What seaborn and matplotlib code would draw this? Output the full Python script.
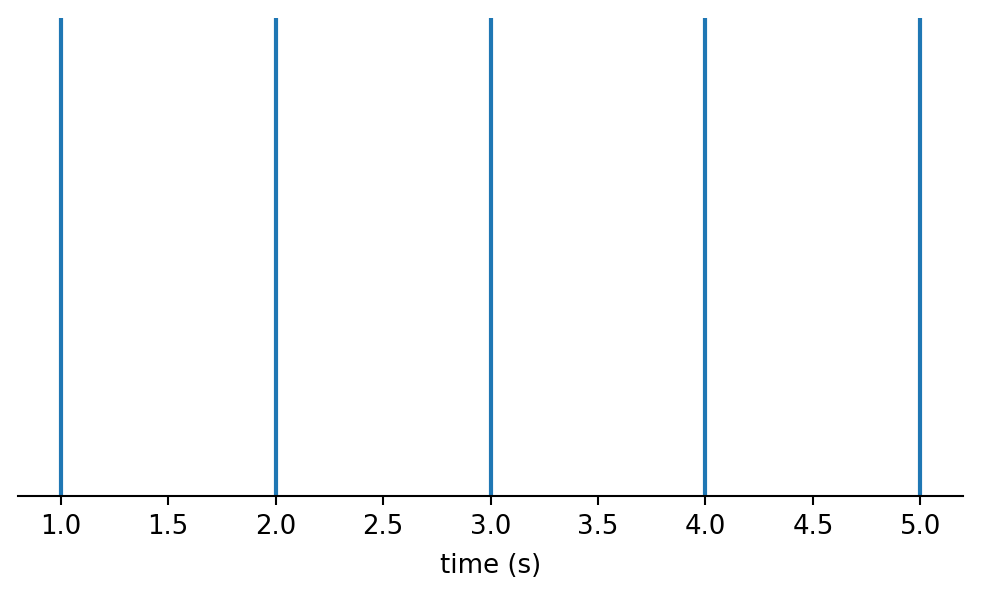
import matplotlib
matplotlib.use("Agg")
import matplotlib.pyplot as plt
import seaborn as sns

# event times (seconds)
event_times = [1.0, 2.0, 3.0, 4.0, 5.0]

plt.rcParams["font.size"] = 12.5

fig, ax = plt.subplots(figsize=(982 / 150, 598 / 150), dpi=150)
fig.subplots_adjust(left=0.018, right=0.981, top=0.97, bottom=0.171)

sns.rugplot(x=event_times, height=1, linewidth=2.0, color="#1f77b4", ax=ax, expand_margins=False)

ax.set_xlim(0.8, 5.2)
ax.set_ylim(0, 1)
ax.set_yticks([])
ax.set_xlabel("time (s)", fontsize=12.5, labelpad=6)
ax.tick_params(axis="x", labelsize=12.5, length=4.4, width=1.0, pad=4.4)
ax.spines["bottom"].set_linewidth(1.0)
sns.despine(ax=ax, left=True, top=True, right=True)

fig.savefig("out.png", dpi=150)
